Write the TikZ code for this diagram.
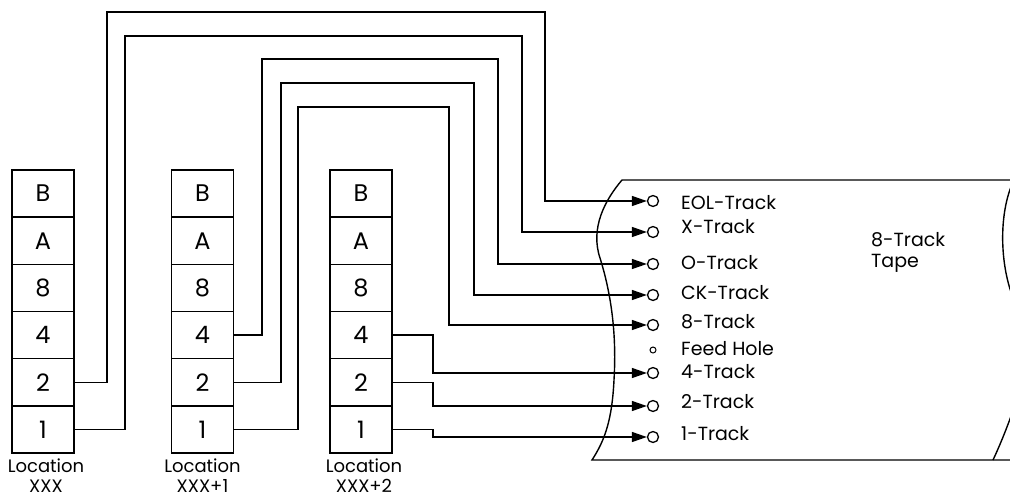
\documentclass[tikz,border=0pt]{standalone}
\usepackage{fontspec}
\setmainfont{Poppins}
\usetikzlibrary{positioning,arrows.meta}

\tikzset{
  bit/.style={draw,line width=1.4pt,minimum width=62pt,minimum height=47.17pt,inner sep=0pt,outer sep=0pt,font=\fontsize{24}{24}\selectfont},
  loc/.style={align=center,inner sep=0pt,font=\fontsize{18}{20}\selectfont},
  hole/.style={draw,circle,line width=1.3pt,minimum size=11pt,inner sep=0pt},
  feed/.style={draw,circle,line width=1pt,minimum size=6pt,inner sep=0pt},
  trk/.style={anchor=west,inner sep=0pt,font=\fontsize{19}{21}\selectfont},
  wire/.style={line width=1.4pt,-{Triangle[length=15pt,width=10pt]}}
}

\begin{document}
\begin{tikzpicture}[x=1pt,y=-1pt]
    \useasboundingbox (0,0) rectangle (1010,498);

    \node[bit] (x0B) at (43,193.6) {B};
    \node[bit,below=0pt of x0B] (x0A) {A};
    \node[bit,below=0pt of x0A] (x08) {8};
    \node[bit,below=0pt of x08] (x04) {4};
    \node[bit,below=0pt of x04] (x02) {2};
    \node[bit,below=0pt of x02] (x01) {1};
    \node[loc,below=6pt of x01,xshift=3pt] (l0) {Location\\XXX};

    \node[bit] (x1B) at (202.5,193.6) {B};
    \node[bit,below=0pt of x1B] (x1A) {A};
    \node[bit,below=0pt of x1A] (x18) {8};
    \node[bit,below=0pt of x18] (x14) {4};
    \node[bit,below=0pt of x14] (x12) {2};
    \node[bit,below=0pt of x12] (x11) {1};
    \node[loc,below=6pt of x11] (l1) {Location\\XXX+1};

    \node[bit] (x2B) at (361,193.6) {B};
    \node[bit,below=0pt of x2B] (x2A) {A};
    \node[bit,below=0pt of x2A] (x28) {8};
    \node[bit,below=0pt of x28] (x24) {4};
    \node[bit,below=0pt of x24] (x22) {2};
    \node[bit,below=0pt of x22] (x21) {1};
    \node[loc,below=6pt of x21,xshift=3pt] (l2) {Location\\XXX+2};

    \draw[line width=1.4pt] (1012,180) -- (622,180)
        .. controls (605,200) and (590,228) .. (600,258)
        .. controls (610,290) and (617,330) .. (614,380)
        .. controls (612,420) and (605,440) .. (592,460) -- (1012,460);
    \begin{scope}
        \clip (0,0) rectangle (1010,498);
        \draw[line width=1.4pt] (1020,170) .. controls (998,200) and (998,262) .. (1014,300);
        \draw[line width=1.4pt] (993,460) .. controls (1000,445) and (1007,428) .. (1015,405);
    \end{scope}

    \node[hole] (tEOL) at (653,201) {};
    \node[hole] (tX) at (653,232) {};
    \node[hole] (tO) at (653,264) {};
    \node[hole] (tCK) at (653,295) {};
    \node[hole] (t8) at (653,325) {};
    \node[feed] (tF) at (653,350) {};
    \node[hole] (t4) at (653,373) {};
    \node[hole] (t2) at (653,406) {};
    \node[hole] (t1) at (653,437) {};

    \node[trk] (lEOL) at (681,203) {EOL-Track};
    \node[trk] (lX) at (681,227) {X-Track};
    \node[trk] (lO) at (681,263) {O-Track};
    \node[trk] (lCK) at (681,293) {CK-Track};
    \node[trk] (l8) at (681,322) {8-Track};
    \node[trk] (lF) at (681,349) {Feed Hole};
    \node[trk] (l4) at (681,372) {4-Track};
    \node[trk] (l2t) at (681,402) {2-Track};
    \node[trk] (l1t) at (681,434) {1-Track};
    \node[trk,align=left] (tape) at (871,252) {8-Track\\Tape};

    \draw[wire] (x02.east) -| (107,12) -- (545,12) |- (tEOL.west);
    \draw[wire] (x01.east) -| (125,36) -- (522,36) |- (tX.west);
    \draw[wire] (x14.east) -| (262,59) -- (498,59) |- (tO.west);
    \draw[wire] (x12.east) -| (281,83) -- (474,83) |- (tCK.west);
    \draw[wire] (x11.east) -| (298,107) -- (449,107) |- (t8.west);
    \draw[wire] (x24.east) -- ++(41,0) |- (t4.west);
    \draw[wire] (x22.east) -- ++(41,0) |- (t2.west);
    \draw[wire] (x21.east) -- ++(41,0) |- (t1.west);
\end{tikzpicture}
\end{document}
